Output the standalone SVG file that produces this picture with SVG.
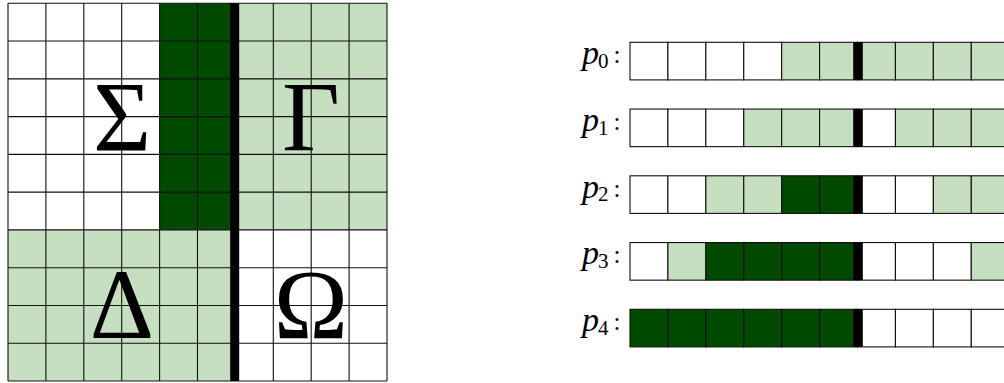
<svg xmlns="http://www.w3.org/2000/svg" width="1004" height="383" viewBox="0 0 1004 383">
<style>
.w{fill:#ffffff}
.l{fill:#c7dfc1}
.d{fill:#004a00}
.c{stroke:#111;stroke-width:1.1}
.gl{fill:none;stroke:#111;stroke-width:1.1}
.bar{fill:#000}
.big{font-family:"Liberation Serif","Times New Roman",serif;font-size:100px;text-anchor:middle;fill:#000}
.pl{font-family:"Liberation Serif","Times New Roman",serif;font-style:italic;font-size:34px;fill:#000}
.sb{font-family:"Liberation Serif","Times New Roman",serif;font-size:21px;fill:#000}
.co{font-family:"Liberation Serif","Times New Roman",serif;font-size:25px;fill:#000}
</style>
<rect x="0" y="0" width="1004" height="383" fill="#fff"/>
<g id="grid">
<rect class="d" x="159.6" y="3.3" width="75.8" height="226.6"/>
<rect class="l" x="235.4" y="3.3" width="151.6" height="226.6"/>
<rect class="l" x="8" y="229.9" width="227.4" height="151.1"/>
<path class="gl" d="M8 3.3V381M45.9 3.3V381M83.8 3.3V381M121.7 3.3V381M159.6 3.3V381M197.5 3.3V381M273.3 3.3V381M311.2 3.3V381M349.1 3.3V381M387 3.3V381M8 3.3H387M8 41.07H387M8 78.84H387M8 116.61H387M8 154.38H387M8 192.15H387M8 229.92H387M8 267.69H387M8 305.46H387M8 343.23H387M8 381H387"/>
<rect class="bar" x="230.2" y="3.3" width="9" height="377.7"/>
<text class="big" x="122" y="149.5">Σ</text>
<text class="big" x="311" y="149.5">Γ</text>
<text class="big" x="122" y="337.5">Δ</text>
<text class="big" x="311" y="337.5">Ω</text>
</g>
<g id="p0" transform="translate(0,42.3)">
<text class="pl" x="582" y="21.7">p</text><text class="sb" x="598" y="25.5">0</text><text class="co" x="613.5" y="20.7">:</text>
<rect class="w c" x="630" y="0" width="37.92" height="37.6"/>
<rect class="w c" x="667.92" y="0" width="37.92" height="37.6"/>
<rect class="w c" x="705.84" y="0" width="37.92" height="37.6"/>
<rect class="w c" x="743.76" y="0" width="37.92" height="37.6"/>
<rect class="l c" x="781.68" y="0" width="37.92" height="37.6"/>
<rect class="l c" x="819.6" y="0" width="37.92" height="37.6"/>
<rect class="l c" x="857.52" y="0" width="37.92" height="37.6"/>
<rect class="l c" x="895.44" y="0" width="37.92" height="37.6"/>
<rect class="l c" x="933.36" y="0" width="37.92" height="37.6"/>
<rect class="l c" x="971.28" y="0" width="37.92" height="37.6"/>
<rect class="bar" x="853.2" y="0" width="9.6" height="37.6"/>
</g>
<g id="p1" transform="translate(0,109.05)">
<text class="pl" x="582" y="21.7">p</text><text class="sb" x="598" y="25.5">1</text><text class="co" x="613.5" y="20.7">:</text>
<rect class="w c" x="630" y="0" width="37.92" height="37.6"/>
<rect class="w c" x="667.92" y="0" width="37.92" height="37.6"/>
<rect class="w c" x="705.84" y="0" width="37.92" height="37.6"/>
<rect class="l c" x="743.76" y="0" width="37.92" height="37.6"/>
<rect class="l c" x="781.68" y="0" width="37.92" height="37.6"/>
<rect class="l c" x="819.6" y="0" width="37.92" height="37.6"/>
<rect class="w c" x="857.52" y="0" width="37.92" height="37.6"/>
<rect class="l c" x="895.44" y="0" width="37.92" height="37.6"/>
<rect class="l c" x="933.36" y="0" width="37.92" height="37.6"/>
<rect class="l c" x="971.28" y="0" width="37.92" height="37.6"/>
<rect class="bar" x="853.2" y="0" width="9.6" height="37.6"/>
</g>
<g id="p2" transform="translate(0,175.8)">
<text class="pl" x="582" y="21.7">p</text><text class="sb" x="598" y="25.5">2</text><text class="co" x="613.5" y="20.7">:</text>
<rect class="w c" x="630" y="0" width="37.92" height="37.6"/>
<rect class="w c" x="667.92" y="0" width="37.92" height="37.6"/>
<rect class="l c" x="705.84" y="0" width="37.92" height="37.6"/>
<rect class="l c" x="743.76" y="0" width="37.92" height="37.6"/>
<rect class="d c" x="781.68" y="0" width="37.92" height="37.6"/>
<rect class="d c" x="819.6" y="0" width="37.92" height="37.6"/>
<rect class="w c" x="857.52" y="0" width="37.92" height="37.6"/>
<rect class="w c" x="895.44" y="0" width="37.92" height="37.6"/>
<rect class="l c" x="933.36" y="0" width="37.92" height="37.6"/>
<rect class="l c" x="971.28" y="0" width="37.92" height="37.6"/>
<rect class="bar" x="853.2" y="0" width="9.6" height="37.6"/>
</g>
<g id="p3" transform="translate(0,242.55)">
<text class="pl" x="582" y="21.7">p</text><text class="sb" x="598" y="25.5">3</text><text class="co" x="613.5" y="20.7">:</text>
<rect class="w c" x="630" y="0" width="37.92" height="37.6"/>
<rect class="l c" x="667.92" y="0" width="37.92" height="37.6"/>
<rect class="d c" x="705.84" y="0" width="37.92" height="37.6"/>
<rect class="d c" x="743.76" y="0" width="37.92" height="37.6"/>
<rect class="d c" x="781.68" y="0" width="37.92" height="37.6"/>
<rect class="d c" x="819.6" y="0" width="37.92" height="37.6"/>
<rect class="w c" x="857.52" y="0" width="37.92" height="37.6"/>
<rect class="w c" x="895.44" y="0" width="37.92" height="37.6"/>
<rect class="w c" x="933.36" y="0" width="37.92" height="37.6"/>
<rect class="l c" x="971.28" y="0" width="37.92" height="37.6"/>
<rect class="bar" x="853.2" y="0" width="9.6" height="37.6"/>
</g>
<g id="p4" transform="translate(0,309.3)">
<text class="pl" x="582" y="21.7">p</text><text class="sb" x="598" y="25.5">4</text><text class="co" x="613.5" y="20.7">:</text>
<rect class="d c" x="630" y="0" width="37.92" height="37.6"/>
<rect class="d c" x="667.92" y="0" width="37.92" height="37.6"/>
<rect class="d c" x="705.84" y="0" width="37.92" height="37.6"/>
<rect class="d c" x="743.76" y="0" width="37.92" height="37.6"/>
<rect class="d c" x="781.68" y="0" width="37.92" height="37.6"/>
<rect class="d c" x="819.6" y="0" width="37.92" height="37.6"/>
<rect class="w c" x="857.52" y="0" width="37.92" height="37.6"/>
<rect class="w c" x="895.44" y="0" width="37.92" height="37.6"/>
<rect class="w c" x="933.36" y="0" width="37.92" height="37.6"/>
<rect class="w c" x="971.28" y="0" width="37.92" height="37.6"/>
<rect class="bar" x="853.2" y="0" width="9.6" height="37.6"/>
</g>
<g id="connectors"></g>
</svg>
